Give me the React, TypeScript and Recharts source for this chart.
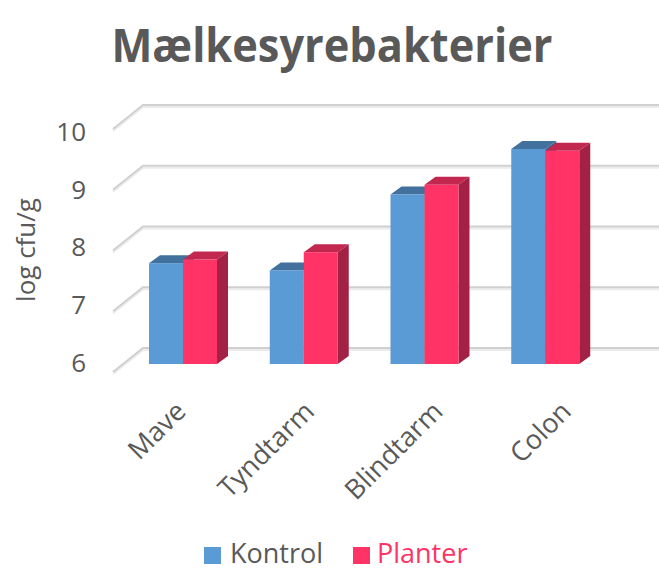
import React from "react";
import { BarChart, Bar, XAxis, YAxis, CartesianGrid, Customized } from "recharts";

const categories = ["Mave", "Tyndtarm", "Blindtarm", "Colon"];
const kontrol = [7.66, 7.54, 8.79, 9.54];
const planter = [7.72, 7.84, 8.95, 9.51];
const yTicks = [6, 7, 8, 9, 10];
const seriesNames = ["Kontrol", "Planter"];

const data = categories.map((name, i) => ({
  name,
  kontrol: kontrol[i],
  planter: planter[i],
}));

const FONT = "'Open Sans', 'Liberation Sans', sans-serif";
const TEXT = "#595959";
const BLUE = { front: "#5b9bd5", top: "#41719c", side: "#3a6791" };
const RED = { front: "#ff3366", top: "#c1274f", side: "#a32144" };

// 3d offsets
const DX = 11;
const DY = 8;
const WALL_DX = 20;
const WALL_DY = 16;

function makeBar3D(c: { front: string; top: string; side: string }) {
  return (props: any) => {
    const { x, y, width, height } = props;
    if (height == null || isNaN(y)) return <g />;
    const r = x + width;
    const b = y + height;
    return (
      <g>
        <polygon
          points={`${x},${y} ${x + DX},${y - DY} ${r + DX},${y - DY} ${r},${y}`}
          fill={c.top}
        />
        <polygon
          points={`${r},${y} ${r + DX},${y - DY} ${r + DX},${b - DY} ${r},${b}`}
          fill={c.side}
        />
        <rect x={x} y={y} width={width} height={height} fill={c.front} />
      </g>
    );
  };
}

const GridLine = (props: any) => {
  const { x1, y1 } = props;
  const fx = x1 - 10;
  const fy = y1 + 8;
  const bx = x1 + WALL_DX;
  const by = y1 - WALL_DY;
  return (
    <g key={`g-${y1}`}>
      <polyline points={`${fx},${fy + 2} ${bx},${by + 2} 659,${by + 2}`} fill="none" stroke="#ebebeb" strokeWidth={2} />
      <polyline points={`${fx},${fy} ${bx},${by} 659,${by}`} fill="none" stroke="#d0d0d0" strokeWidth={2} />
    </g>
  );
};

const YTick = (props: any) => {
  const { y, payload } = props;
  const ly = 131 + (y - 121.2) * 0.951;
  return (
    <text x={86} y={ly} textAnchor="end" dominantBaseline="central" fontSize={26} fill={TEXT} fontFamily={FONT}>
      {payload.value}
    </text>
  );
};

const XTick = (props: any) => {
  const { x, payload } = props;
  const ax = x + (x - 183) * 0.064 + 4;
  const ay = 413;
  return (
    <text
      x={ax}
      y={ay}
      textAnchor="end"
      fontSize={27}
      fill={TEXT}
      fontFamily={FONT}
      transform={`rotate(-45 ${ax} ${ay})`}
    >
      {payload.value}
    </text>
  );
};

const Decorations = () => (
  <g fontFamily={FONT}>
    <text x={332} y={62} textAnchor="middle" fontSize={46} fontWeight="bold" fill={TEXT} textLength={441} lengthAdjust="spacingAndGlyphs">
      Mælkesyrebakterier
    </text>
    <text x={35} y={250} textAnchor="middle" fontSize={26} fill={TEXT} transform="rotate(-90 35 250)">
      log cfu/g
    </text>
    <rect x={204} y={547} width={17} height={17} fill={BLUE.front} />
    <text x={230} y={563} fontSize={27} fill={TEXT}>{seriesNames[0]}</text>
    <rect x={353} y={547} width={17} height={17} fill={RED.front} />
    <text x={377} y={563} fontSize={27} fill={RED.front}>{seriesNames[1]}</text>
  </g>
);

export default function App() {
  return (
    <div style={{ position: "absolute", left: 0, top: 0, width: 659, height: 572, background: "#fff" }}>
      <BarChart
        width={659}
        height={572}
        data={data}
        margin={{ top: 121, right: 53, left: 122, bottom: 207 }}
        barSize={34}
        barGap={0}
      >
        <CartesianGrid vertical={false} horizontal={(p: any) => <GridLine {...p} />} />
        <XAxis dataKey="name" height={1} axisLine={false} tickLine={false} tick={<XTick />} interval={0} />
        <YAxis
          domain={[6, 10]}
          ticks={yTicks}
          width={1}
          axisLine={false}
          tickLine={false}
          tick={<YTick />}
          allowDataOverflow
        />
        <Bar dataKey="kontrol" name={seriesNames[0]} shape={makeBar3D(BLUE)} isAnimationActive={false} />
        <Bar dataKey="planter" name={seriesNames[1]} shape={makeBar3D(RED)} isAnimationActive={false} />
        <Customized component={Decorations} />
      </BarChart>
    </div>
  );
}
